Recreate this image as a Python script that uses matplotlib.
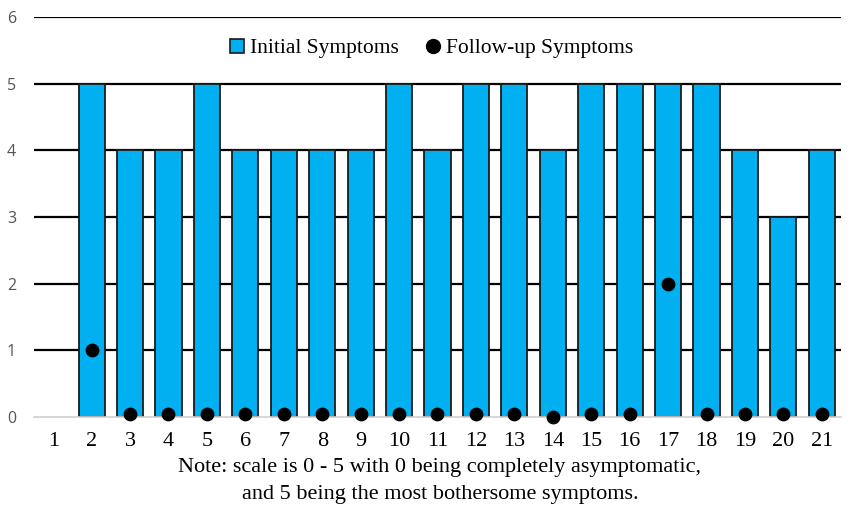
import matplotlib
matplotlib.use("Agg")
import matplotlib.pyplot as plt
from matplotlib.lines import Line2D

categories = list(range(1, 22))
initial = [None, 5, 4, 4, 5, 4, 4, 4, 4, 5, 4, 5, 5, 4, 5, 5, 5, 5, 4, 3, 4]
followup = [None, 1, 0.05, 0.05, 0.05, 0.05, 0.05, 0.05, 0.05, 0.05, 0.05, 0.05, 0.05, 0.0,
            0.05, 0.05, 2, 0.05, 0.05, 0.05, 0.05]
ytick_vals = [0, 1, 2, 3, 4, 5, 6]
note = "Note: scale is 0 - 5 with 0 being completely asymptomatic,\nand 5 being the most bothersome symptoms."

serif = "Liberation Serif"

fig = plt.figure(figsize=(8.54, 5.12), dpi=100)
ax = fig.add_axes([34/854, 1-417/512, (841-34)/854, (417-17)/512])

bx = [c for c, v in zip(categories, initial) if v is not None]
bv = [v for v in initial if v is not None]
ax.bar(bx, bv, width=0.68, color="#00B0F0", edgecolor="#1a1a1a", linewidth=1.3, zorder=2)

fx = [c for c, v in zip(categories, followup) if v is not None]
fv = [v for v in followup if v is not None]
ax.scatter(fx, fv, s=80, color="black", zorder=4, clip_on=False)

ax.set_xlim(0.5, 21.5)
ax.set_ylim(0, 6)
ax.set_yticks(ytick_vals)
ax.set_xticks(categories)
ax.set_xticklabels([str(c) for c in categories], fontfamily=serif, fontsize=16)
for lab in ax.get_yticklabels():
    lab.set_fontfamily("Open Sans")
    lab.set_fontsize(11.5)
    lab.set_color("#555555")
ax.tick_params(axis="both", length=0)
ax.tick_params(axis="x", pad=11)
ax.tick_params(axis="y", pad=13)
for y in ytick_vals[1:]:
    ax.axhline(y, color="black", linewidth=1.6, zorder=1)
for s in ["top", "right", "left"]:
    ax.spines[s].set_visible(False)
ax.spines["bottom"].set_color("#d0d0d0")
ax.spines["bottom"].set_linewidth(1.2)

handles = [
    Line2D([], [], marker="s", linestyle="none", markersize=10, markerfacecolor="#00B0F0",
           markeredgecolor="#1a1a1a", markeredgewidth=1.2, label="Initial Symptoms"),
    Line2D([], [], marker="o", linestyle="none", markersize=10, color="black", label="Follow-up Symptoms"),
]
leg = ax.legend(handles=handles, loc="center", bbox_to_anchor=(0.49, 1 - (48-17)/400), ncol=2,
                frameon=True, framealpha=1, edgecolor="white", facecolor="white",
                prop={"family": serif, "size": 15.5}, handletextpad=0.1, columnspacing=1.1,
                handlelength=1.0, borderpad=0.3)
leg.set_zorder(5)

fig.text(440/854, 1-481/512, note, ha="center", va="center", fontfamily=serif, fontsize=16,
         linespacing=1.55)

fig.savefig("out.png", dpi=100)
